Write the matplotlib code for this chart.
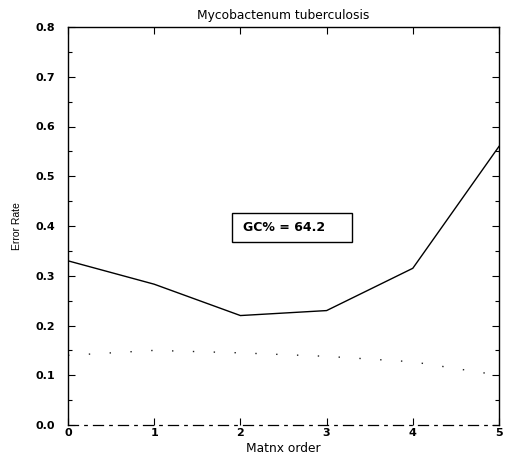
import matplotlib
matplotlib.use("Agg")
import matplotlib.pyplot as plt
from matplotlib.ticker import MultipleLocator
from matplotlib.patches import Rectangle

plt.rcParams['font.family'] = ['DejaVu Sans']

matrix_order = [0, 1, 2, 3, 4, 5]
error_rate = [0.33, 0.283, 0.22, 0.23, 0.315, 0.56]
error_rate_dotted = [0.14, 0.15, 0.145, 0.138, 0.127, 0.10]
x_ticks = [0, 1, 2, 3, 4, 5]
y_ticks = [0.0, 0.1, 0.2, 0.3, 0.4, 0.5, 0.6, 0.7, 0.8]
title = "Mycobactenum tuberculosis"
legend_text = "GC% = 64.2"

W, H = 511, 459
fig = plt.figure(figsize=(W/100, H/100), dpi=100)
L, R, T, B = 68, 499, 27, 425
ax = fig.add_axes([L/W, 1 - B/H, (R-L)/W, (B-T)/H])

ax.plot(matrix_order, error_rate, color='black', linewidth=1.0)
ax.plot(matrix_order, error_rate_dotted, color='#222222', linewidth=1.0,
        linestyle=(0, (1, 14)))

ax.set_xlim(0, 5)
ax.set_ylim(0.0, 0.8)
ax.set_xticks(x_ticks)
ax.set_xticklabels([str(t) for t in x_ticks], fontsize=8, fontweight='bold')
ax.set_yticks(y_ticks)
ax.set_yticklabels([f"{t:.1f}" for t in y_ticks], fontsize=8, fontweight='bold')
ax.yaxis.set_minor_locator(MultipleLocator(0.05))
ax.tick_params(axis='both', which='both', direction='in', top=True, right=True,
               width=0.8)
ax.tick_params(axis='both', which='major', length=5)
ax.tick_params(axis='y', which='major', pad=9)
ax.tick_params(axis='y', which='minor', length=3)
ax.tick_params(axis='x', which='major', pad=2)
for s in ax.spines.values():
    s.set_linewidth(1.0)
ax.spines['bottom'].set_linestyle((0, (8, 5, 2, 5)))
ax.spines['bottom'].set_linewidth(0.9)

ax.set_title(title, fontsize=8.8, pad=5.5)
ax.set_xlabel("Matnx order", fontsize=8.8, labelpad=3)
ax.set_ylabel("Error Rate", fontsize=7.5, labelpad=10,
              family=['Liberation Sans', 'DejaVu Sans'])

# legend box
bx0 = (232 - L) / (R - L) * 5
bx1 = (352 - L) / (R - L) * 5
by0 = (B - 242) / (B - T) * 0.8
by1 = (B - 213) / (B - T) * 0.8
ax.add_patch(Rectangle((bx0, by0), bx1 - bx0, by1 - by0, facecolor='white',
                       edgecolor='black', linewidth=1.0, zorder=3))
ax.text((243 - L) / (R - L) * 5, (by0 + by1) / 2, legend_text, fontsize=9,
        fontweight='bold', ha='left', va='center', zorder=4)

fig.savefig("out.png", dpi=100)
